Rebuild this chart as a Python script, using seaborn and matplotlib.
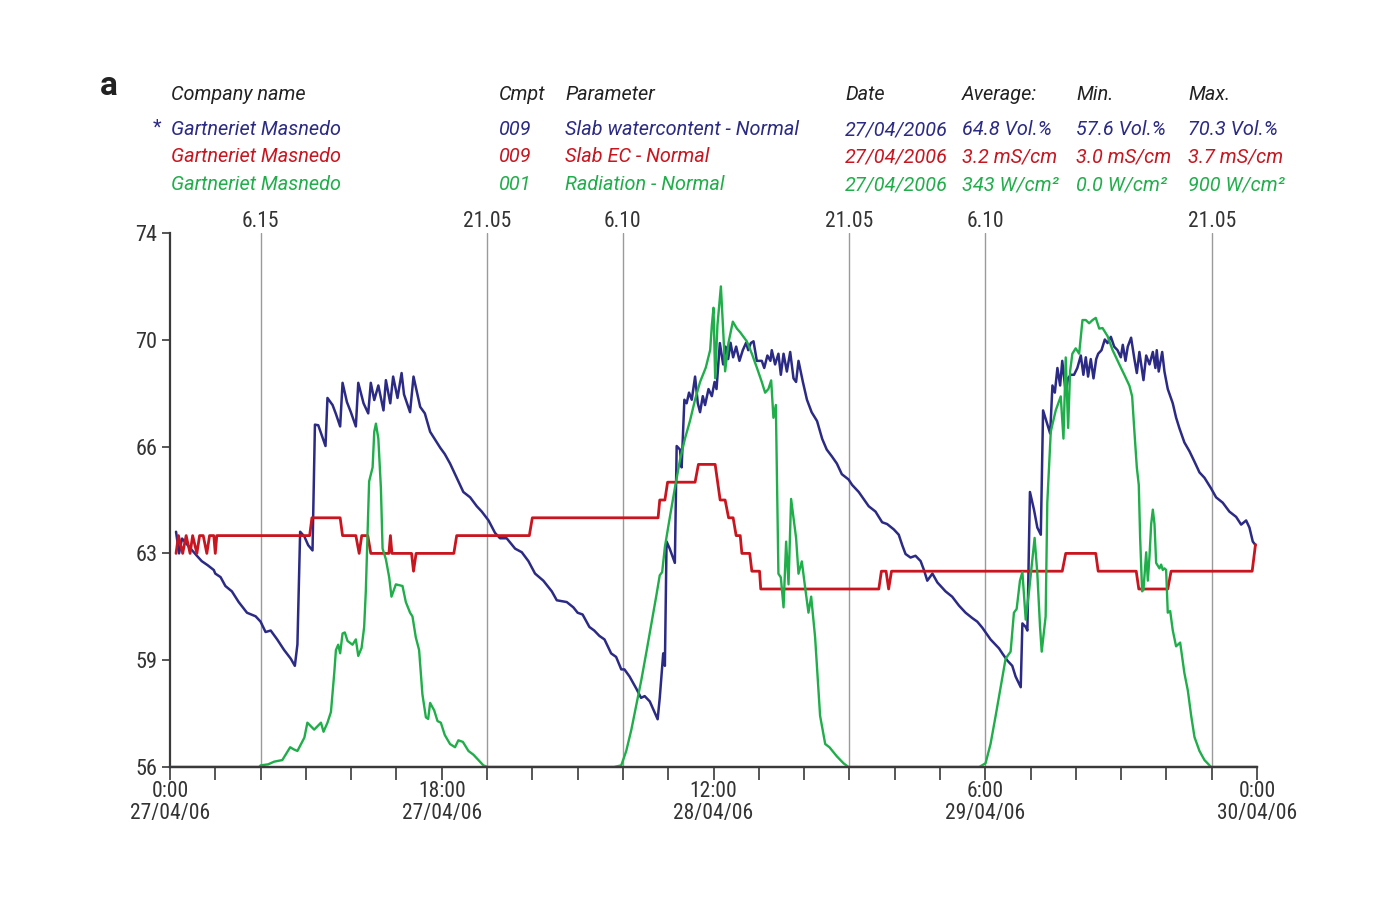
import numpy as np
import pandas as pd
import matplotlib
matplotlib.use("Agg")
import matplotlib.pyplot as plt
from matplotlib import font_manager as fm
import seaborn as sns

# ---------------- data (hours since 0:00 27/04/06) ----------------
blue_hours = [0.40, 0.60, 0.80, 1.30, 1.78, 2.10, 2.50, 2.90, 3.00, 3.35, 3.67, 4.10, 4.55, 5.10, 5.67,
              6.00, 6.33, 6.67, 7.10, 7.55, 8.00, 8.27, 8.44, 8.55, 8.62, 8.90, 9.15, 9.44, 9.60, 9.82,
              10.30, 10.43, 10.77, 10.99, 11.27, 11.43, 11.72, 11.98, 12.31, 12.47, 12.82, 13.13, 13.30,
              13.53, 13.80, 14.14, 14.30, 14.59, 14.78, 15.07, 15.34, 15.50, 15.90, 16.13, 16.57, 16.88,
              17.23, 17.60, 17.90, 18.20, 18.55, 18.88, 19.43, 19.88, 20.32, 20.65, 21.10, 21.53, 21.86,
              22.30, 22.86, 23.30, 23.74, 24.18, 24.73, 25.29, 25.62, 26.28, 26.72, 27.00, 27.33, 27.78,
              28.10, 28.44, 28.78, 29.22, 29.55, 29.89, 30.10, 30.44, 30.90, 31.20, 31.44, 31.78, 32.30,
              32.44, 32.67, 32.78, 32.89, 33.10, 33.44, 33.56, 33.78, 33.89, 34.07, 34.22, 34.38, 34.56,
              34.78, 34.96, 35.11, 35.29, 35.44, 35.67, 35.89, 36.07, 36.20, 36.42, 36.64, 36.80, 36.97,
              37.13, 37.30, 37.50, 37.72, 37.94, 38.16, 38.30, 38.47, 38.65, 38.87, 39.20, 39.36, 39.57,
              39.77, 39.86, 40.08, 40.30, 40.46, 40.64, 40.86, 41.08, 41.30, 41.47, 41.63, 41.92, 42.19,
              42.50, 42.86, 43.20, 43.50, 43.84, 44.17, 44.50, 44.95, 45.18, 45.62, 45.95, 46.28, 46.73,
              47.17, 47.50, 47.94, 48.27, 48.50, 48.72, 49.05, 49.38, 49.72, 49.94, 50.16, 50.50, 50.83,
              51.37, 51.81, 52.26, 52.70, 53.14, 53.47, 53.80, 54.02, 54.35, 54.69, 54.91, 55.13, 55.46,
              55.79, 56.01, 56.35, 56.46, 56.68, 56.79, 56.96, 57.23, 57.45, 57.68, 57.83, 58.12, 58.30,
              58.45, 58.61, 58.78, 58.96, 59.10, 59.33, 59.48, 59.66, 59.88, 60.10, 60.33, 60.50, 60.66,
              60.81, 60.99, 61.17, 61.35, 61.48, 61.70, 61.92, 62.10, 62.32, 62.54, 62.76, 62.98, 63.11,
              63.29, 63.44, 63.66, 63.88, 64.04, 64.21, 64.48, 64.66, 64.88, 65.10, 65.27, 65.36, 65.49,
              65.72, 65.87, 66.09, 66.42, 66.64, 66.86, 67.19, 67.53, 67.86, 68.19, 68.52, 68.96, 69.29,
              69.73, 70.17, 70.62, 70.95, 71.28, 71.50, 71.72, 71.90]
blue_vol = [63.93, 63.20, 63.70, 63.40, 63.12, 62.94, 62.80, 62.64, 62.52, 62.40, 62.10, 61.92, 61.56, 61.20, 61.08,
            60.90, 60.55, 60.60, 60.30, 59.95, 59.65, 59.41, 60.13, 62.50, 63.93, 63.77, 63.48, 63.30, 67.54, 67.52,
            66.82, 68.44, 68.20, 67.90, 67.48, 68.95, 68.30, 67.96, 67.48, 68.95, 68.26, 67.92, 68.95,
            68.37, 68.86, 68.02, 69.04, 68.26, 69.16, 68.44, 69.28, 68.56, 67.96, 69.16, 68.14, 67.92,
            67.30, 67.00, 66.76, 66.55, 66.23, 65.87, 65.27, 65.09, 64.79, 64.61, 64.31, 63.89, 63.71,
            63.71, 63.36, 63.24, 62.94, 62.52, 62.28, 61.92, 61.62, 61.56, 61.38, 61.20, 61.14, 60.72,
            60.60, 60.42, 60.30, 59.83, 59.71, 59.29, 59.29, 59.05, 58.63, 58.33, 58.39, 58.21, 57.61,
            58.33, 59.83, 59.41, 63.60, 63.36, 62.88, 66.82, 66.70, 66.10, 68.38, 68.26, 68.62, 68.38,
            69.16, 68.26, 67.96, 68.50, 68.20, 68.74, 68.50, 68.98, 68.74, 70.29, 69.57, 70.17, 69.75,
            70.30, 69.81, 70.17, 69.69, 70.05, 70.30, 70.05, 70.29, 70.35, 69.69, 69.69, 69.45, 69.87,
            69.69, 70.05, 69.57, 69.93, 69.22, 69.93, 69.33, 69.99, 69.10, 68.98, 69.69, 68.98, 68.38,
            67.96, 67.66, 67.06, 66.70, 66.47, 66.23, 65.87, 65.69, 65.51, 65.27, 65.03, 64.79, 64.61,
            64.25, 64.19, 64.01, 63.83, 63.48, 63.18, 63.06, 63.12, 62.94, 62.64, 62.28, 62.52, 62.22,
            61.92, 61.74, 61.44, 61.20, 61.02, 60.90, 60.70, 60.54, 60.30, 60.12, 60.00, 59.83, 59.59,
            59.41, 59.05, 58.69, 60.84, 60.72, 60.60, 65.27, 64.67, 64.07, 63.83, 68.02, 67.54, 67.24,
            68.86, 68.62, 69.45, 68.86, 69.69, 68.62, 69.10, 69.22, 69.22, 69.45, 69.87, 69.22, 69.81,
            69.16, 69.75, 69.10, 69.75, 69.93, 70.05, 70.41, 70.29, 70.50, 70.17, 70.05, 69.81, 70.23,
            69.69, 70.17, 70.47, 69.75, 69.28, 69.99, 69.04, 69.87, 69.57, 69.99, 69.45, 70.05, 69.33,
            69.99, 69.33, 68.74, 68.26, 67.78, 67.42, 66.94, 66.64, 66.29, 65.93, 65.75, 65.39, 65.09,
            64.91, 64.61, 64.43, 64.17, 64.31, 64.07, 63.60, 63.48]

red_hours = [0.40, 0.56, 0.84, 1.07, 1.33, 1.50, 1.78, 1.96, 2.20, 2.44, 2.62, 2.90, 3.00, 3.10, 9.25, 9.40,
             11.27, 11.43, 12.31, 12.53, 12.70, 13.10, 13.30, 14.50, 14.60, 14.70, 16.00, 16.13, 16.30,
             18.80, 18.99, 23.80, 24.00, 32.33, 32.44, 32.78, 32.96, 34.78, 35.00, 36.11, 36.44, 36.77,
             37.00, 37.30, 37.50, 37.77, 37.88, 38.40, 38.54, 39.05, 39.13, 46.95, 47.12, 47.43, 47.60,
             47.79, 59.10, 59.33, 61.32, 61.48, 64.00, 64.17, 66.09, 66.31, 71.68, 71.90]
red_ec = [3.20, 3.30, 3.20, 3.30, 3.20, 3.30, 3.20, 3.30, 3.30, 3.20, 3.30, 3.30, 3.20, 3.30, 3.30, 3.40,
          3.40, 3.30, 3.30, 3.20, 3.30, 3.30, 3.20, 3.20, 3.30, 3.20, 3.20, 3.10, 3.20,
          3.20, 3.30, 3.30, 3.40, 3.40, 3.50, 3.50, 3.60, 3.60, 3.70, 3.70, 3.50, 3.50,
          3.40, 3.40, 3.30, 3.30, 3.20, 3.20, 3.10, 3.10, 3.00, 3.00, 3.10, 3.10, 3.00,
          3.10, 3.10, 3.20, 3.20, 3.10, 3.10, 3.00, 3.00, 3.10, 3.10, 3.25]

green_hours = [0.0, 5.9, 6.0, 6.5, 6.9, 7.44, 7.96, 8.2, 8.44, 8.9, 9.1, 9.55, 10.0, 10.17, 10.43, 10.66,
               10.88, 10.99, 11.14, 11.27, 11.43, 11.58, 11.76, 12.09, 12.31, 12.47, 12.69, 12.86, 12.97,
               13.19, 13.42, 13.53, 13.64, 13.80, 13.97, 14.08, 14.30, 14.52, 14.67, 14.96, 15.40, 15.62,
               15.90, 16.06, 16.28, 16.50, 16.72, 16.95, 17.10, 17.23, 17.50, 17.72, 17.94, 18.20, 18.55,
               18.88, 19.10, 19.40, 19.77, 20.10, 20.43, 20.76, 21.05, 29.40, 29.89, 30.22, 30.56, 30.89,
               31.22, 31.56, 31.89, 32.22, 32.44, 32.60, 32.78, 33.11, 33.44, 33.78, 34.11, 34.44, 34.78,
               35.11, 35.49, 35.78, 35.89, 36.00, 36.11, 36.26, 36.49, 36.66, 36.77, 36.99, 37.28, 37.55,
               37.77, 38.21, 38.54, 38.87, 39.20, 39.42, 39.64, 39.82, 39.97, 40.13, 40.30, 40.46, 40.64,
               40.81, 40.97, 41.14, 41.47, 41.63, 41.85, 42.07, 42.29, 42.47, 42.73, 43.06, 43.40, 43.68,
               44.17, 44.61, 44.94, 53.60, 54.02, 54.35, 54.69, 55.02, 55.35, 55.68, 55.90, 56.08, 56.30,
               56.46, 56.68, 56.90, 57.12, 57.27, 57.45, 57.63, 57.74, 58.00, 58.11, 58.34, 58.67, 59.00,
               59.18, 59.33, 59.49, 59.62, 59.77, 59.99, 60.22, 60.44, 60.66, 60.88, 61.11, 61.32, 61.55,
               61.77, 62.10, 62.43, 62.76, 62.98, 63.22, 63.55, 63.73, 63.88, 64.04, 64.17, 64.26, 64.39,
               64.48, 64.66, 64.77, 64.88, 64.99, 65.10, 65.21, 65.32, 65.54, 65.65, 65.76, 65.87, 65.98,
               66.09, 66.25, 66.42, 66.64, 66.91, 67.19, 67.42, 67.64, 67.86, 68.19, 68.52, 68.96, 72.0]
green_rad = [0, 0, 3, 5, 10, 13, 37, 33, 30, 55, 83, 70, 83, 66, 83, 103,
             176, 219, 229, 213, 250, 252, 236, 229, 239, 208, 223, 262, 329,
             535, 561, 628, 643, 615, 522, 409, 389, 355, 319, 342, 339, 309,
             289, 282, 243, 219, 136, 93, 90, 120, 106, 86, 83, 60, 43,
             37, 50, 47, 30, 23, 13, 3, 0, 0, 3, 30, 70, 116,
             163, 216, 269, 322, 359, 365, 412, 468, 522, 575, 615, 648, 688,
             721, 748, 781, 827, 860, 728, 827, 900, 807, 741, 794, 834, 821,
             814, 797, 774, 748, 721, 701, 708, 724, 654, 678, 362, 355, 299,
             422, 342, 502, 429, 362, 385, 336, 289, 319, 243, 96, 43, 37,
             20, 7, 0, 0, 7, 43, 96, 150, 203, 216, 289, 296, 349,
             365, 276, 329, 389, 429, 362, 262, 216, 282, 495, 628, 668, 694,
             615, 767, 635, 741, 774, 784, 774, 837, 837, 831, 837, 841, 821,
             822, 807, 781, 761, 748, 734, 714, 694, 628, 561, 528, 429, 329,
             332, 402, 349, 395, 455, 482, 455, 382, 372, 379, 369, 372, 369,
             289, 292, 256, 226, 233, 176, 143, 96, 56, 30, 13, 0, 0]

sun_hours = [6, 21, 30, 45, 54, 69]
sun_labels = ["6.15", "21.05", "6.10", "21.05", "6.10", "21.05"]

ytick_vals = [56, 59.6, 63.2, 66.8, 70.4, 74]
ytick_labels = ["56", "59", "63", "66", "70", "74"]
xtick_vals = list(range(0, 73, 3))
xlabel_map = {0: "0:00\n27/04/06", 18: "18:00\n27/04/06", 36: "12:00\n28/04/06",
              54: "6:00\n29/04/06", 72: "0:00\n30/04/06"}

header_cols = ["Company name", "Cmpt", "Parameter", "Date", "Average:", "Min.", "Max."]
rows = [
    ["Gartneriet Masnedo", "009", "Slab watercontent - Normal", "27/04/2006", "64.8 Vol.%", "57.6 Vol.%", "70.3 Vol.%"],
    ["Gartneriet Masnedo", "009", "Slab EC - Normal", "27/04/2006", "3.2 mS/cm", "3.0 mS/cm", "3.7 mS/cm"],
    ["Gartneriet Masnedo", "001", "Radiation - Normal", "27/04/2006", "343 W/cm²", "0.0 W/cm²", "900 W/cm²"],
]

BLUE = "#2b2a85"
RED = "#c8151f"
GREEN = "#1fae4a"
AXC = "#3a3a3a"

sns.set_theme(style="white")

# pick a condensed face for axis numbers if one is installed
avail = {(f.name, f.stretch) for f in fm.fontManager.ttflist}
names = {n for n, _ in avail}
tick_family, tick_stretch = 'Roboto', 'normal'
for cand in ['Roboto Condensed', 'Liberation Sans Narrow', 'Open Sans Condensed', 'Noto Sans Condensed']:
    if cand in names:
        tick_family = cand
        break
else:
    for n, st in avail:
        if n in ('DejaVu Sans', 'Noto Sans', 'Open Sans') and st in ('condensed', 'semi-condensed', 600, 700, 500):
            tick_family, tick_stretch = n, st
            break
plt.rcParams['font.family'] = [tick_family, 'DejaVu Sans']
plt.rcParams['font.stretch'] = tick_stretch

W, H = 1400, 900
fig = plt.figure(figsize=(14, 9), dpi=100)
ax = fig.add_axes([170 / W, 1 - 767 / H, (1257 - 170) / W, (767 - 233) / H])
ax2 = ax.twinx()
ax3 = ax.twinx()

blue_df = pd.DataFrame({"hours": blue_hours, "value": blue_vol})
red_df = pd.DataFrame({"hours": red_hours, "value": red_ec})
green_df = pd.DataFrame({"hours": green_hours, "value": green_rad})

sns.lineplot(data=blue_df, x="hours", y="value", ax=ax, color=BLUE, linewidth=1.8,
             estimator=None, sort=False)
sns.lineplot(data=red_df, x="hours", y="value", ax=ax2, color=RED, linewidth=2.0,
             estimator=None, sort=False)
sns.lineplot(data=green_df, x="hours", y="value", ax=ax3, color=GREEN, linewidth=1.7,
             estimator=None, sort=False)

ax.set_xlim(0, 72)
ax.set_ylim(56, 74)
ax2.set_ylim(2.0, 5.0)
ax3.set_ylim(0, 1000)

for a in (ax, ax2, ax3):
    a.set_xlabel("")
    a.set_ylabel("")

for a in (ax2, ax3):
    a.set_yticks([])
    for s in a.spines.values():
        s.set_visible(False)
ax3.spines['bottom'].set_visible(True)
ax3.spines['bottom'].set_color(AXC)
ax3.spines['bottom'].set_linewidth(1.6)
ax3.spines['bottom'].set_zorder(5)

ax.spines['top'].set_visible(False)
ax.spines['right'].set_visible(False)
for s in ('left', 'bottom'):
    ax.spines[s].set_color(AXC)
    ax.spines[s].set_linewidth(1.6)

ax.set_yticks(ytick_vals)
ax.set_yticklabels(ytick_labels)
ax.set_xticks(xtick_vals)
ax.set_xticklabels([xlabel_map.get(v, "") for v in xtick_vals])
ax.tick_params(axis='y', direction='out', length=6, width=1.2, color=AXC, labelsize=16,
               labelcolor="#333333", pad=3, left=True)
ax.tick_params(axis='x', direction='out', length=9, width=1.2, color=AXC, labelsize=15.5,
               labelcolor="#333333", pad=1, bottom=True)
for lbl in ax.get_xticklabels():
    lbl.set_linespacing(1.05)

for h, lab in zip(sun_hours, sun_labels):
    ax.axvline(h, color="#9a9a9a", linewidth=1.0, zorder=0.5)
    ax.annotate(lab, (h, 1.0), xycoords=('data', 'axes fraction'), xytext=(0, 8),
                textcoords='offset points', ha='center', va='center', fontsize=15.5, color="#333333")

# header table
hfont = ['Roboto', 'DejaVu Sans']
col_x = [171, 499, 565, 845, 962, 1076, 1188]
fig.text(100 / W, 1 - 86 / H, "a", fontsize=24, fontweight='bold', family=hfont, color="#222222",
         ha='left', va='center', stretch='normal')
for cx, txt in zip(col_x, header_cols):
    fig.text(cx / W, 1 - 95 / H, txt, fontsize=14.3, style='italic', family=hfont, color="#222222",
             ha='left', va='center', stretch='normal')
row_y = [130, 157, 185]
row_colors = [BLUE, RED, GREEN]
for ry, rc, vals in zip(row_y, row_colors, rows):
    for cx, txt in zip(col_x, vals):
        fig.text(cx / W, 1 - ry / H, txt, fontsize=14.3, style='italic', family=hfont, color=rc,
                 ha='left', va='center', stretch='normal')
fig.text(153 / W, 1 - 128 / H, "*", fontsize=14.3, family=hfont, color=BLUE, ha='left', va='center',
         stretch='normal')

fig.savefig("out.png", dpi=100, facecolor="white")
